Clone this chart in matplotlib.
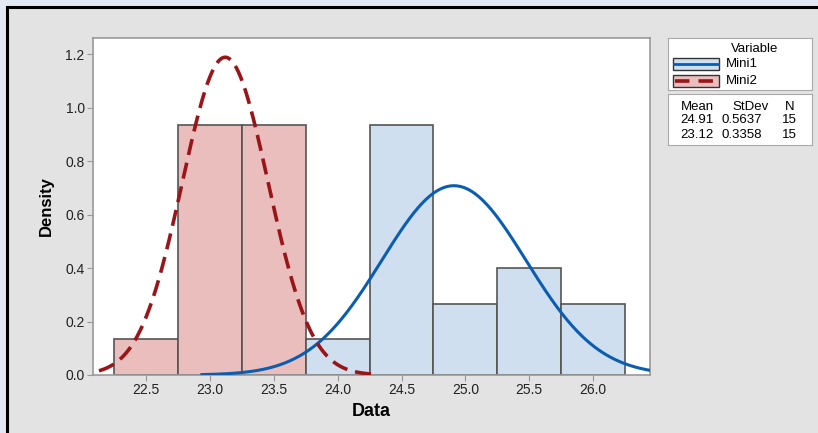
import numpy as np
import matplotlib.pyplot as plt
from matplotlib.patches import Rectangle

# --- data ---
bin_edges = [22.25, 22.75, 23.25, 23.75, 24.25, 24.75, 25.25, 25.75, 26.25]
mini1_counts = [0, 0, 0, 1, 7, 2, 3, 2]
mini2_counts = [1, 7, 7, 0, 0, 0, 0, 0]
series = ["Mini1", "Mini2"]
means = [24.91, 23.12]
stdevs = [0.5637, 0.3358]
ns = [15, 15]
x_ticks = [22.5, 23.0, 23.5, 24.0, 24.5, 25.0, 25.5, 26.0]
y_ticks = [0.0, 0.2, 0.4, 0.6, 0.8, 1.0, 1.2]

fill_colors = ["#D0DFEF", "#EBBEBE"]
line_colors = ["#0A5DB0", "#9A1518"]
edge = "#555555"

plt.rcParams['font.family'] = ['Liberation Sans', 'DejaVu Sans']

fig = plt.figure(figsize=(8.18, 4.33), dpi=100)
fig.patch.set_facecolor("#E3EAF5")
# inner gray panel with black frame
fig.add_artist(Rectangle((7 / 818, -0.01), 1.02, 1 - 7 / 433 + 0.01, transform=fig.transFigure,
                         facecolor="#E3E3E3", edgecolor="black", linewidth=2.2, zorder=-5))

ax = fig.add_axes([93 / 818, 1 - 375 / 433, 557 / 818, 337 / 433])
ax.set_facecolor("white")

widths = np.diff(bin_edges)
lefts = np.array(bin_edges[:-1])
for counts, fc in [(mini2_counts, fill_colors[1]), (mini1_counts, fill_colors[0])]:
    dens = np.array(counts) / (sum(counts) * widths)
    mask = dens > 0
    ax.bar(lefts[mask], dens[mask], width=widths[mask], align="edge", color=fc,
           edgecolor=edge, linewidth=1.2, zorder=2)

# fitted normal curves (mean +/- 3.5 sd)
for i, (m, s) in enumerate(zip(means, stdevs)):
    xs = np.linspace(m - 3.5 * s, m + 3.5 * s, 400)
    ys = np.exp(-0.5 * ((xs - m) / s) ** 2) / (s * np.sqrt(2 * np.pi))
    if i == 0:
        ax.plot(xs, ys, color=line_colors[0], lw=2.2, zorder=3)
    else:
        ax.plot(xs, ys, color=line_colors[1], lw=2.6, dashes=(4.5, 2.2), zorder=4)

ax.set_xlim(22.085, 26.445)
ax.set_ylim(0, 1.26)
ax.set_xticks(x_ticks)
ax.set_xticklabels([f"{v:.1f}" for v in x_ticks])
ax.set_yticks(y_ticks)
ax.set_yticklabels([f"{v:.1f}" for v in y_ticks])
ax.tick_params(direction="out", length=4, color="#999999", labelsize=10, labelcolor="#222222", pad=2)
for sp in ax.spines.values():
    sp.set_color("#999999")
    sp.set_linewidth(1.2)
ax.set_xlabel("Data", fontsize=13, fontweight="bold", labelpad=4)
ax.set_ylabel("Density", fontsize=12, fontweight="bold", labelpad=8)

# legend box
lax = fig.add_axes([668 / 818, 1 - 90 / 433, 144 / 818, 52 / 433])
lax.set_xlim(0, 144)
lax.set_ylim(52, 0)
lax.set_xticks([])
lax.set_yticks([])
for sp in lax.spines.values():
    sp.set_color("#AAAAAA")
lax.text(87, 11.5, "Variable", ha="center", va="center", fontsize=9.5)
for i, name in enumerate(series):
    yc = 26 + i * 17
    lax.add_patch(Rectangle((5, yc - 6), 46, 12, facecolor=fill_colors[i], edgecolor="#333333", lw=1))
    if i == 0:
        lax.plot([6, 50], [yc, yc], color=line_colors[0], lw=2)
    else:
        lax.plot([7, 50], [yc, yc], color=line_colors[1], lw=2.6, dashes=(4, 2.5))
    lax.text(58, yc, name, ha="left", va="center", fontsize=9.5)

# stats box
sax = fig.add_axes([668 / 818, 1 - 145 / 433, 144 / 818, 51 / 433])
sax.set_xlim(0, 144)
sax.set_ylim(51, 0)
sax.set_xticks([])
sax.set_yticks([])
for sp in sax.spines.values():
    sp.set_color("#AAAAAA")
sax.text(29, 13, "Mean", ha="center", va="center", fontsize=9.5)
sax.text(83, 13, "StDev", ha="center", va="center", fontsize=9.5)
sax.text(126, 13, "N", ha="right", va="center", fontsize=9.5)
for i in range(len(series)):
    yr = 26 + i * 14.5
    sax.text(29, yr, f"{means[i]:.2f}", ha="center", va="center", fontsize=9.5)
    sax.text(74, yr, f"{stdevs[i]:.4f}", ha="center", va="center", fontsize=9.5)
    sax.text(129, yr, f"{ns[i]}", ha="right", va="center", fontsize=9.5)

fig.savefig("out.png", dpi=100)
